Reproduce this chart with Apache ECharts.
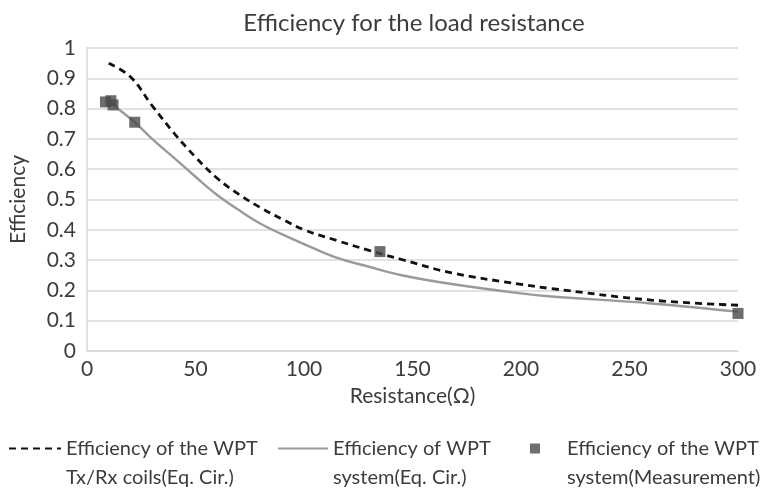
<!DOCTYPE html>
<html>
<head>
<meta charset="utf-8">
<script src="https://cdn.jsdelivr.net/npm/echarts@6/dist/echarts.min.js"></script>
<style>
  html, body { margin: 0; padding: 0; background: #fff; }
  #chart { width: 768px; height: 492px; }
</style>
</head>
<body>
<div id="chart"></div>
<script>
// Load resistance (ohm) and efficiency values
const coilR   = [10, 20, 30, 40, 50, 60, 70, 80, 90, 100, 115, 130, 145, 168, 200, 214, 260, 300];
const coilEff = [0.95, 0.905, 0.81, 0.72, 0.64, 0.57, 0.517, 0.473, 0.435, 0.40, 0.365, 0.332, 0.302, 0.258, 0.22, 0.206, 0.168, 0.151];

const sysR   = [12, 22, 30, 40, 50, 60, 70, 80, 90, 100, 115, 130, 145, 168, 200, 214, 260, 300];
const sysEff = [0.812, 0.755, 0.70, 0.638, 0.575, 0.515, 0.465, 0.42, 0.385, 0.353, 0.308, 0.278, 0.25, 0.221, 0.19, 0.18, 0.157, 0.13];

const measR   = [8.5, 11, 12, 22, 135, 300];
const measEff = [0.822, 0.826, 0.812, 0.755, 0.328, 0.124];

const xTicks = [0, 50, 100, 150, 200, 250, 300];

const names = [
  'Efficiency of the WPT\nTx/Rx coils(Eq. Cir.)',
  'Efficiency of WPT\nsystem(Eq. Cir.)',
  'Efficiency of the WPT\nsystem(Measurement)'
];

const font = 'Lato, "Open Sans", sans-serif';
const ink = '#3c3c3c';
const pair = (xs, ys) => xs.map((x, i) => [x, ys[i]]);

// Legend entries keep their icon beside the first text line: a blank leading
// line makes the first text line the vertical centre of the label.
const legendText = { fontFamily: font, fontSize: 20, color: ink, lineHeight: 29 };
const legendLabel = name => '\n' + name;

const chart = echarts.init(document.getElementById('chart'), null, { renderer: 'canvas' });
chart.setOption({
  backgroundColor: '#fff',
  animation: false,
  title: {
    text: 'Efficiency for the load resistance',
    left: 409, top: 6, textAlign: 'center',
    textStyle: { fontFamily: font, fontSize: 24, fontWeight: 'normal', color: ink }
  },
  grid: { left: 83, right: 30, top: 48, bottom: 141 },
  legend: [
    { data: [names[0]], left: 8, top: 405, padding: 0, itemWidth: 52, itemHeight: 14,
      formatter: legendLabel, itemStyle: { opacity: 0 }, textStyle: legendText },
    { data: [names[1]], left: 277, top: 405, padding: 0, itemWidth: 50, itemHeight: 14,
      formatter: legendLabel, itemStyle: { opacity: 0 }, textStyle: legendText },
    { data: [names[2]], left: 530, top: 405, padding: 0, itemWidth: 10, itemHeight: 10,
      formatter: legendLabel,
      textStyle: Object.assign({}, legendText, { padding: [0, 0, 0, 22] }) }
  ],
  xAxis: {
    type: 'value', min: 0, max: 300, interval: 50,
    name: 'Resistance(Ω)', nameLocation: 'middle', nameGap: 35,
    nameTextStyle: { fontFamily: font, fontSize: 21, color: ink },
    axisLine: { show: true, lineStyle: { color: '#d9d9d9', width: 1.5 } },
    axisTick: { show: false },
    splitLine: { show: false },
    axisLabel: {
      fontFamily: font, fontSize: 21, color: ink, margin: 8,
      formatter: v => (xTicks.indexOf(v) >= 0 ? String(v) : '')
    }
  },
  yAxis: {
    type: 'value', min: 0, max: 1, interval: 0.1,
    name: 'Efficiency', nameLocation: 'middle', nameGap: 58,
    nameTextStyle: { fontFamily: font, fontSize: 21, color: ink },
    axisLine: { show: true, lineStyle: { color: '#d9d9d9', width: 1.5 } },
    axisTick: { show: false },
    splitLine: { show: true, lineStyle: { color: '#d9d9d9', width: 1.5 } },
    axisLabel: {
      fontFamily: font, fontSize: 21, color: ink, margin: 11,
      formatter: v => String(Math.round(v * 10) / 10)
    }
  },
  series: [
    {
      name: names[0], type: 'line', data: pair(coilR, coilEff),
      smooth: 0.4, showSymbol: false, symbol: 'none',
      lineStyle: { color: '#111', width: 2.8, type: [7, 5] },
      itemStyle: { color: '#111' }, z: 3
    },
    {
      name: names[1], type: 'line', data: pair(sysR, sysEff),
      smooth: 0.4, showSymbol: false, symbol: 'none',
      lineStyle: { color: '#9a9a9a', width: 2.4 },
      itemStyle: { color: '#9a9a9a' }, z: 2
    },
    {
      name: names[2], type: 'scatter', data: pair(measR, measEff),
      symbol: 'rect', symbolSize: 11,
      itemStyle: { color: '#4a4a4a' }, z: 4
    }
  ]
});
</script>
</body>
</html>
